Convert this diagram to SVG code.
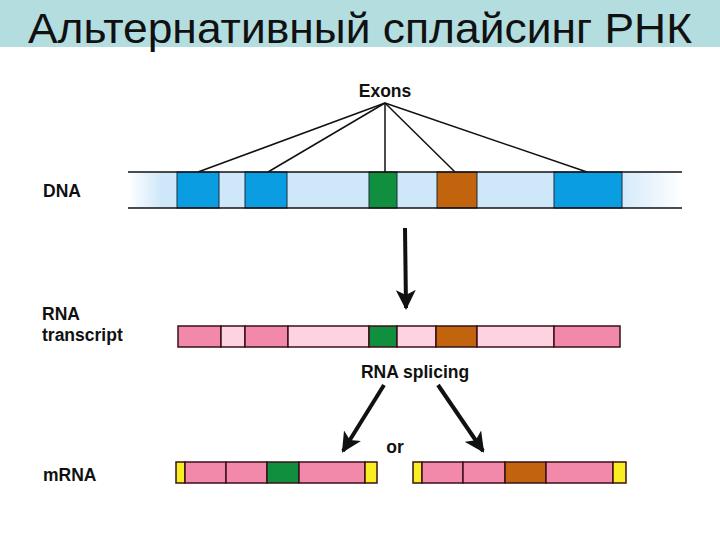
<svg xmlns="http://www.w3.org/2000/svg" width="720" height="540" viewBox="0 0 720 540">
<style>
.lbl{font-family:"Liberation Sans",Arial,sans-serif;font-weight:bold;font-size:17.5px;fill:#111}
.seg{stroke:#3a1018;stroke-width:1.5}
.ex{stroke:#1a2a3a;stroke-width:1}
.lead{stroke:#111;stroke-width:1.5;fill:none}
.pk{fill:#f288aa}
.lp{fill:#fdd3e2}
.yl{fill:#f8ee22}
.gr{fill:#10903e}
.or{fill:#c2630e}
.bl{fill:#0a9de2}
</style>
<defs>
<linearGradient id="dnaGrad" x1="128" y1="0" x2="682" y2="0" gradientUnits="userSpaceOnUse">
<stop offset="0" stop-color="#ffffff"/>
<stop offset="0.06" stop-color="#cfe8f9"/>
<stop offset="0.88" stop-color="#cfe8f9"/>
<stop offset="1" stop-color="#ffffff"/>
</linearGradient>
<marker id="ah" viewBox="0 0 10 10" refX="9" refY="5" markerWidth="5" markerHeight="5" orient="auto" markerUnits="strokeWidth">
<path d="M0,0 L10,5 L0,10 L2.5,5 z" fill="#111"/>
</marker>
</defs>
<rect x="0" y="0" width="720" height="540" fill="#ffffff"/>
<g id="title">
<rect x="0" y="0" width="720" height="47" fill="#b4dde0"/>
<text x="28" y="43" font-family="'Liberation Sans',Arial,sans-serif" font-size="42" fill="#111" textLength="664" lengthAdjust="spacingAndGlyphs">Альтернативный сплайсинг РНК</text>
</g>
<g id="labels">
<text class="lbl" x="43" y="197">DNA</text>
<text class="lbl" x="42" y="320">RNA</text>
<text class="lbl" x="42" y="341">transcript</text>
<text class="lbl" x="43" y="481">mRNA</text>
<text class="lbl" x="385" y="97" text-anchor="middle">Exons</text>
<text class="lbl" x="415" y="378" text-anchor="middle">RNA splicing</text>
<text class="lbl" x="395" y="453" text-anchor="middle">or</text>
</g>
<g id="connectors">
<line class="lead" x1="385" y1="103" x2="198" y2="172"/>
<line class="lead" x1="385" y1="103" x2="268" y2="172"/>
<line class="lead" x1="385" y1="103" x2="385" y2="172"/>
<line class="lead" x1="385" y1="103" x2="455" y2="172"/>
<line class="lead" x1="385" y1="103" x2="587" y2="172"/>
<line x1="405" y1="228" x2="406" y2="308" stroke="#111" stroke-width="4" marker-end="url(#ah)"/>
<line x1="384" y1="385" x2="343" y2="451" stroke="#111" stroke-width="4" marker-end="url(#ah)"/>
<line x1="438" y1="385" x2="483" y2="451" stroke="#111" stroke-width="4" marker-end="url(#ah)"/>
</g>
<g id="dna">
<rect x="128" y="172" width="554" height="36" fill="url(#dnaGrad)"/>
<rect class="ex bl" x="177" y="172" width="42" height="36"/>
<rect class="ex bl" x="245" y="172" width="42" height="36"/>
<rect class="ex gr" x="369" y="172" width="28" height="36"/>
<rect class="ex or" x="437" y="172" width="40" height="36"/>
<rect class="ex bl" x="554" y="172" width="68" height="36"/>
<line x1="128" y1="172" x2="682" y2="172" stroke="#111" stroke-width="1.5"/>
<line x1="128" y1="208" x2="682" y2="208" stroke="#111" stroke-width="1.5"/>
</g>
<g id="rna-transcript">
<rect class="seg pk" x="178" y="326" width="43" height="21"/>
<rect class="seg lp" x="221" y="326" width="24" height="21"/>
<rect class="seg pk" x="245" y="326" width="43" height="21"/>
<rect class="seg lp" x="288" y="326" width="81" height="21"/>
<rect class="seg gr" x="369" y="326" width="28" height="21"/>
<rect class="seg lp" x="397" y="326" width="39" height="21"/>
<rect class="seg or" x="436" y="326" width="41" height="21"/>
<rect class="seg lp" x="477" y="326" width="77" height="21"/>
<rect class="seg pk" x="554" y="326" width="66" height="21"/>
</g>
<g id="mrna-1">
<rect class="seg yl" x="176" y="462" width="9" height="21"/>
<rect class="seg pk" x="185" y="462" width="41" height="21"/>
<rect class="seg pk" x="226" y="462" width="41" height="21"/>
<rect class="seg gr" x="267" y="462" width="32" height="21"/>
<rect class="seg pk" x="299" y="462" width="66" height="21"/>
<rect class="seg yl" x="365" y="462" width="12" height="21"/>
</g>
<g id="mrna-2">
<rect class="seg yl" x="413" y="462" width="9" height="21"/>
<rect class="seg pk" x="422" y="462" width="41" height="21"/>
<rect class="seg pk" x="463" y="462" width="42" height="21"/>
<rect class="seg or" x="505" y="462" width="41" height="21"/>
<rect class="seg pk" x="546" y="462" width="67" height="21"/>
<rect class="seg yl" x="613" y="462" width="13" height="21"/>
</g>
</svg>
